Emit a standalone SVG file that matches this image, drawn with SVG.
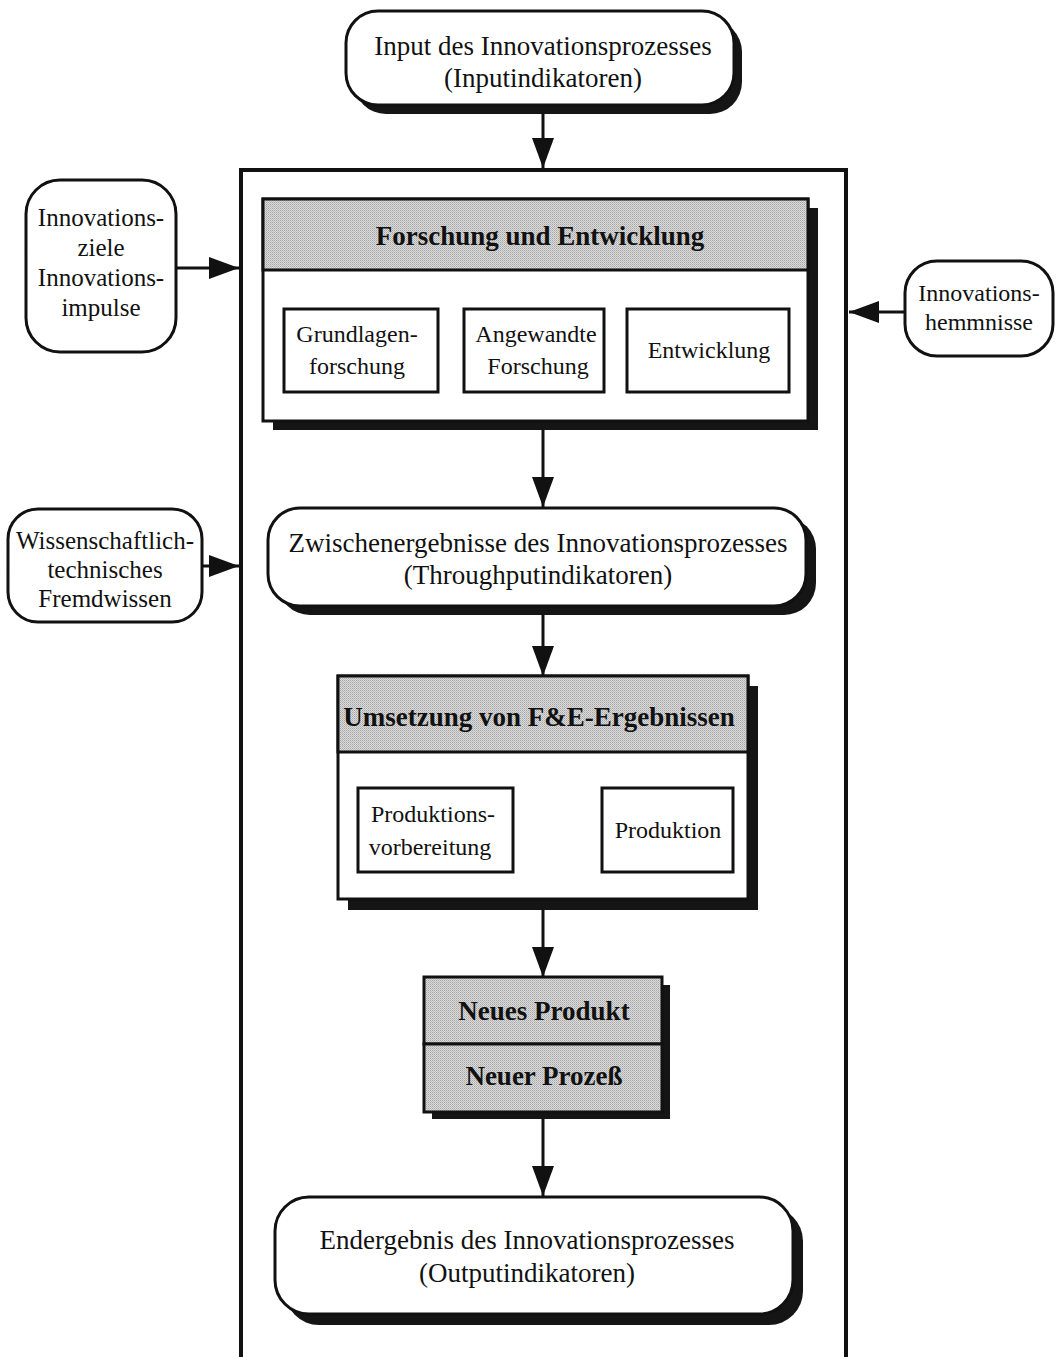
<svg xmlns="http://www.w3.org/2000/svg" width="1056" height="1357" viewBox="0 0 1056 1357">
<style>
text{font-family:"Liberation Serif","Times New Roman",serif;fill:#111;text-anchor:middle}
.big{font-size:27px}
.sm{font-size:24px}
.side{font-size:25px}
.bold{font-weight:bold;font-size:27px}
.box{fill:#fff;stroke:#111;stroke-width:3}
.shadow{fill:#151515}
.hdr{fill:url(#dither);stroke:#111;stroke-width:3}
.sub{fill:#fff;stroke:#111;stroke-width:3}
.conn{stroke:#111;stroke-width:3;fill:none;marker-end:url(#arr)}
</style>
<defs>
<pattern id="dither" width="2" height="2" patternUnits="userSpaceOnUse">
<rect width="2" height="2" fill="#dadada"/>
<rect x="0" y="0" width="1" height="1" fill="#a8a8a8"/>
<rect x="1" y="1" width="1" height="1" fill="#bcbcbc"/>
</pattern>
<marker id="arr" markerUnits="userSpaceOnUse" markerWidth="32" markerHeight="22" refX="30" refY="11" orient="auto">
<path d="M0,0 L30,11 L0,22 Z" fill="#111"/>
</marker>
</defs>

<g id="container">
<rect x="241" y="170" width="605" height="1220" fill="none" stroke="#111" stroke-width="4"/>
</g>

<g id="connectors">
<line class="conn" x1="543" y1="112" x2="543" y2="168"/>
<line class="conn" x1="176" y1="268" x2="239" y2="268"/>
<line class="conn" x1="202" y1="566" x2="239" y2="566"/>
<line class="conn" x1="905" y1="312" x2="849" y2="312"/>
<line class="conn" x1="543" y1="430" x2="543" y2="507"/>
<line class="conn" x1="543" y1="615" x2="543" y2="676"/>
<line class="conn" x1="543" y1="910" x2="543" y2="977"/>
<line class="conn" x1="543" y1="1118" x2="543" y2="1196"/>
</g>

<g id="input">
<rect class="shadow" x="354" y="20" width="388" height="94" rx="32"/>
<rect class="box" x="346" y="11" width="388" height="94" rx="32"/>
<text class="big" x="543" y="55">Input des Innovationsprozesses</text>
<text class="big" x="543" y="87">(Inputindikatoren)</text>
</g>

<g id="ziele">
<rect class="box" x="26" y="180" width="150" height="172" rx="34"/>
<text class="side" x="101" y="226">Innovations-</text>
<text class="side" x="101" y="256">ziele</text>
<text class="side" x="101" y="286">Innovations-</text>
<text class="side" x="101" y="316">impulse</text>
</g>

<g id="fremdwissen">
<rect class="box" x="8" y="509" width="194" height="113" rx="30"/>
<text class="side" x="105" y="549">Wissenschaftlich-</text>
<text class="side" x="105" y="578">technisches</text>
<text class="side" x="105" y="607">Fremdwissen</text>
</g>

<g id="hemmnisse">
<rect class="box" x="905" y="261" width="148" height="95" rx="32"/>
<text class="sm" x="979" y="301">Innovations-</text>
<text class="sm" x="979" y="330">hemmnisse</text>
</g>

<g id="fue">
<rect class="shadow" x="273" y="208" width="545" height="222"/>
<rect class="box" x="263" y="199" width="545" height="222"/>
<rect class="hdr" x="263" y="199" width="545" height="71"/>
<text class="bold" x="540" y="245">Forschung und Entwicklung</text>
</g>
<g id="grundlagen">
<rect class="sub" x="284" y="309" width="154" height="83"/>
<text class="sm" x="357" y="342">Grundlagen-</text>
<text class="sm" x="357" y="374">forschung</text>
</g>
<g id="angewandte">
<rect class="sub" x="464" y="309" width="140" height="83"/>
<text class="sm" x="536" y="342">Angewandte</text>
<text class="sm" x="538" y="374">Forschung</text>
</g>
<g id="entwicklung">
<rect class="sub" x="627" y="309" width="162" height="83"/>
<text class="sm" x="709" y="358">Entwicklung</text>
</g>

<g id="zwischen">
<rect class="shadow" x="278" y="517" width="538" height="98" rx="32"/>
<rect class="box" x="268" y="508" width="538" height="98" rx="32"/>
<text class="big" x="538" y="552">Zwischenergebnisse des Innovationsprozesses</text>
<text class="big" x="538" y="584">(Throughputindikatoren)</text>
</g>

<g id="umsetzung">
<rect class="shadow" x="348" y="686" width="410" height="224"/>
<rect class="box" x="338" y="676" width="410" height="223"/>
<rect class="hdr" x="338" y="676" width="410" height="76"/>
<text class="bold" x="539" y="726">Umsetzung von F&amp;E-Ergebnissen</text>
</g>
<g id="vorbereitung">
<rect class="sub" x="358" y="788" width="155" height="84"/>
<text class="sm" x="433" y="822">Produktions-</text>
<text class="sm" x="430" y="855">vorbereitung</text>
</g>
<g id="produktion">
<rect class="sub" x="602" y="788" width="131" height="84"/>
<text class="sm" x="668" y="838">Produktion</text>
</g>

<g id="ergebnis">
<rect class="shadow" x="432" y="985" width="238" height="134"/>
<rect class="hdr" x="424" y="977" width="238" height="67"/>
<rect class="hdr" x="424" y="1044" width="238" height="68"/>
<text class="bold" x="544" y="1020">Neues Produkt</text>
<text class="bold" x="544" y="1085">Neuer Prozeß</text>
</g>

<g id="endergebnis">
<rect class="shadow" x="285" y="1207" width="518" height="118" rx="34"/>
<rect class="box" x="275" y="1197" width="518" height="117" rx="34"/>
<text class="big" x="527" y="1249">Endergebnis des Innovationsprozesses</text>
<text class="big" x="527" y="1282">(Outputindikatoren)</text>
</g>
</svg>
